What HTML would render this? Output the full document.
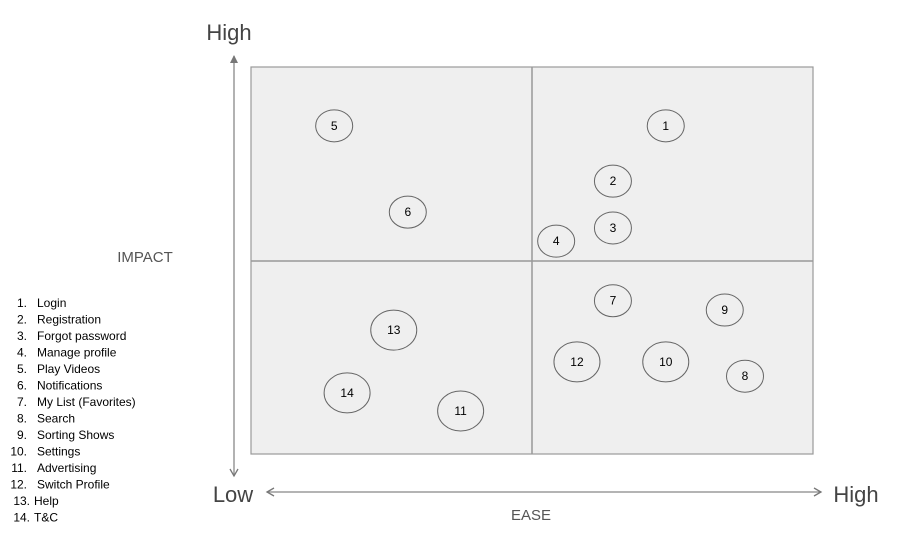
<!DOCTYPE html>
<html><head><meta charset="utf-8"><style>
body{margin:0;background:#fff;width:923px;height:533px;overflow:hidden;font-family:"Liberation Sans",Arial,sans-serif}
</style></head><body>
<svg id="c" width="923" height="533" xmlns="http://www.w3.org/2000/svg" font-family="Liberation Sans, Arial, sans-serif">
<defs>
<marker id="ah" markerWidth="8" markerHeight="10" refX="7" refY="5" orient="auto" markerUnits="userSpaceOnUse"><path d="M0,1 L8,5 L0,9 Z" fill="#777"/></marker>
<marker id="oh" markerWidth="10" markerHeight="10" refX="8" refY="5" orient="auto-start-reverse" markerUnits="userSpaceOnUse"><path d="M1,1 L8,5 L1,9" fill="none" stroke="#777" stroke-width="1.3"/></marker>
</defs>
<rect x="251" y="67" width="562" height="387" fill="#efefef" stroke="#999" stroke-width="1.2"/>
<line x1="532" y1="67" x2="532" y2="454" stroke="#999" stroke-width="1.5"/>
<line x1="251" y1="261" x2="813" y2="261" stroke="#999" stroke-width="1.5"/>
<line x1="234" y1="476" x2="234" y2="56" stroke="#888" stroke-width="1.3" marker-end="url(#ah)"/>
<path d="M230,469 L234,476 L238,469" fill="none" stroke="#777" stroke-width="1.3"/>
<line x1="267" y1="492" x2="821" y2="492" stroke="#888" stroke-width="1.3" marker-start="url(#oh)" marker-end="url(#oh)"/>
<text x="229" y="40" font-size="22" fill="#444" text-anchor="middle">High</text>
<text x="233" y="502" font-size="22" fill="#444" text-anchor="middle">Low</text>
<text x="856" y="502" font-size="22" fill="#444" text-anchor="middle">High</text>
<text x="145" y="262" font-size="15" fill="#555" text-anchor="middle">IMPACT</text>
<text x="531" y="520" font-size="15" fill="#555" text-anchor="middle">EASE</text>
<g id="legend"></g>
<g id="pts"></g>
</svg>
<script>
const labels=["Login","Registration","Forgot password","Manage profile","Play Videos","Notifications","My List (Favorites)","Search","Sorting Shows","Settings","Advertising","Switch Profile","Help","T&C"];
const ease=[7.38,6.44,6.44,5.43,1.48,2.79,6.44,8.79,8.43,7.38,3.73,5.80,2.54,1.71];
const impact=[8.48,7.05,5.84,5.50,8.48,6.25,3.96,2.01,3.72,2.38,1.11,2.38,3.20,1.58];
const big=[0,0,0,0,0,0,0,0,0,1,1,1,1,1];
const NS="http://www.w3.org/2000/svg";
const xS=v=>251+v/10*562, yS=v=>454-v/10*387;
const pts=document.getElementById('pts'), lg=document.getElementById('legend');
labels.forEach((l,i)=>{
  const g=document.createElementNS(NS,'g');
  
  
  const e=document.createElementNS(NS,'ellipse');
  
  
  e.setAttribute('cx',xS(ease[i]));e.setAttribute('cy',yS(impact[i]));
  e.setAttribute('rx',big[i]?23:18.5);e.setAttribute('ry',big[i]?20:16);
  e.setAttribute('fill','none');e.setAttribute('stroke','#666');e.setAttribute('stroke-width','1');
  const t=document.createElementNS(NS,'text');
  
  
  t.setAttribute('x',xS(ease[i]));t.setAttribute('y',yS(impact[i])+4);
  t.setAttribute('font-size','12');t.setAttribute('text-anchor','middle');t.textContent=i+1;
  g.appendChild(e);g.appendChild(t);pts.appendChild(g);
  const n=document.createElementNS(NS,'text');
  
  
  n.setAttribute('x',i<12?27:30);n.setAttribute('y',307+i*16.5);n.setAttribute('font-size','12');n.setAttribute('text-anchor','end');
  n.textContent=(i+1)+'.';
  const lt=document.createElementNS(NS,'text');
  
  
  lt.setAttribute('x',i<12?37:34);lt.setAttribute('y',307+i*16.5);lt.setAttribute('font-size','12');
  lt.textContent=l;
  lg.appendChild(n);lg.appendChild(lt);
});
</script>
</body></html>
